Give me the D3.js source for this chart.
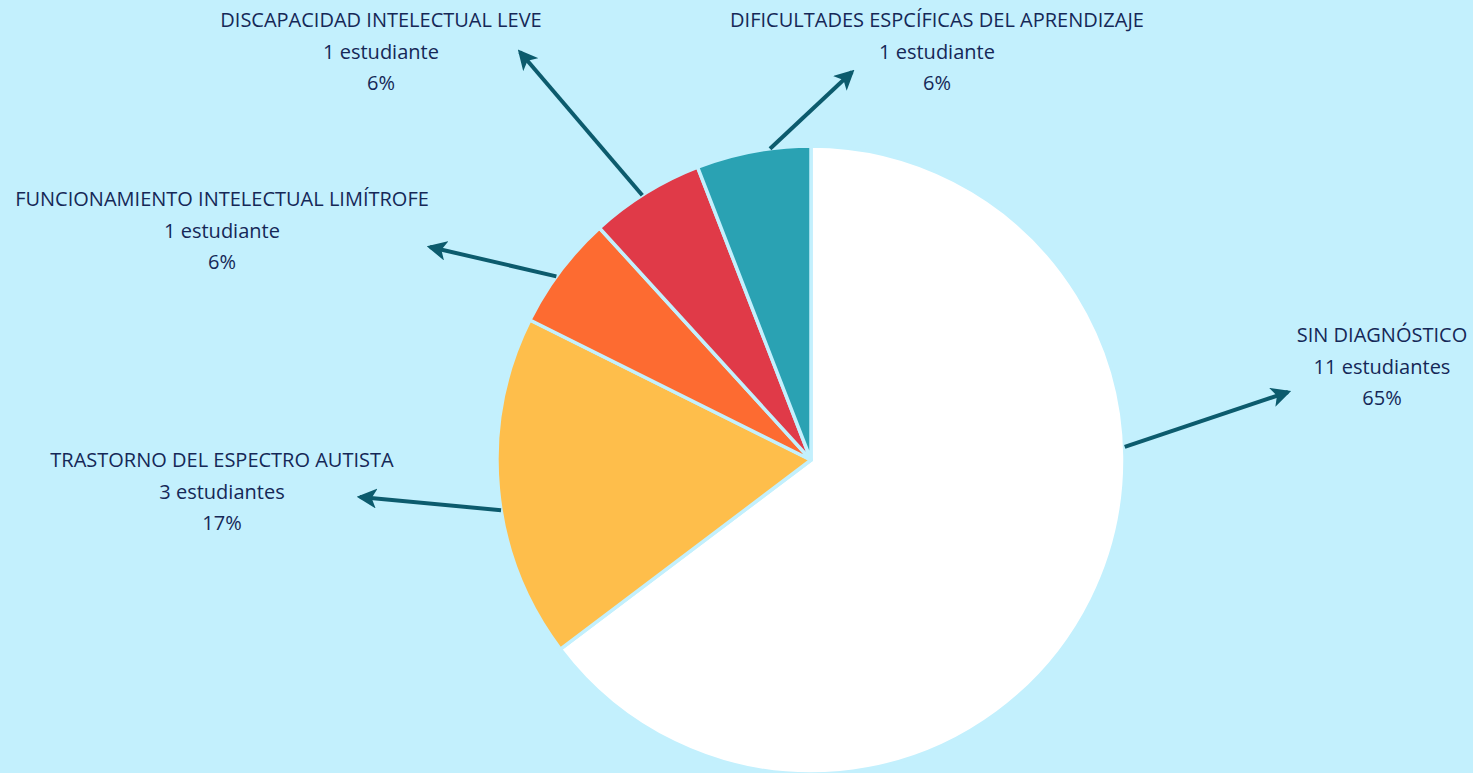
<!DOCTYPE html>
<html><head><meta charset="utf-8">
<script src="https://cdn.jsdelivr.net/npm/d3@7"></script>
<style>html,body{margin:0;padding:0;background:#c3f0fd;}svg{display:block;}</style>
</head><body>
<svg id="chart" width="1473" height="773"></svg>
<script>
const categories = ["SIN DIAGNÓSTICO","TRASTORNO DEL ESPECTRO AUTISTA","FUNCIONAMIENTO INTELECTUAL LIMÍTROFE","DISCAPACIDAD INTELECTUAL LEVE","DIFICULTADES ESPCÍFICAS DEL APRENDIZAJE"];
const counts = [11,3,1,1,1];
const countLabels = ["11 estudiantes","3 estudiantes","1 estudiante","1 estudiante","1 estudiante"];
const percentLabels = ["65%","17%","6%","6%","6%"];
const colors = ["#ffffff","#febe4b","#fd6b31","#e03a48","#2aa2b3"];

// layout
const W=1473,H=773, cx=811, cy=460, R=314;
const labelPos = [[1382,342],[222,467],[222,206],[381,27],[937,27]]; // baseline of first line
const arrowStartDeg = [87.6,260.8,305.8,327.5,352.5];
const arrowEnd = [[1288,392],[360,497],[430,247],[520,52],[852,72]];

const svg=d3.select("#chart");
svg.append("rect").attr("width",W).attr("height",H).attr("fill","#c3f0fd");
const defs=svg.append("defs");
defs.append("marker").attr("id","ah").attr("viewBox","0 0 12 12").attr("refX",10).attr("refY",6)
 .attr("markerWidth",5).attr("markerHeight",5).attr("orient","auto").attr("markerUnits","strokeWidth")
 .append("path").attr("d","M0,0 L12,6 L0,12 L3,6 Z").attr("fill","#0c5b6d");

const pie=d3.pie().sort(null).value(d=>d);
const arcs=pie(counts);
const arc=d3.arc().innerRadius(0).outerRadius(R);
const g=svg.append("g").attr("transform",`translate(${cx},${cy})`);
g.selectAll("path").data(arcs).join("path").attr("d",arc)
 .attr("fill",(d,i)=>colors[i]).attr("stroke","#c3f0fd").attr("stroke-width",3.5).attr("stroke-linejoin","round");

// arrows
arrowStartDeg.forEach((a,i)=>{
  const rad=a*Math.PI/180;
  const x1=cx+R*Math.sin(rad), y1=cy-R*Math.cos(rad);
  svg.append("line").attr("x1",x1).attr("y1",y1).attr("x2",arrowEnd[i][0]).attr("y2",arrowEnd[i][1])
   .attr("stroke","#0c5b6d").attr("stroke-width",4).attr("marker-end","url(#ah)");
});

// labels
categories.forEach((c,i)=>{
  const [x,y]=labelPos[i];
  const t=svg.append("text").attr("x",x).attr("text-anchor","middle")
   .attr("font-family","'Open Sans', sans-serif").attr("font-size",20).attr("font-weight",500).attr("fill","#152857");
  [c,countLabels[i],percentLabels[i]].forEach((s,k)=>{
    t.append("tspan").attr("x",x).attr("y",y+k*31.5).text(s);
  });
});
</script>
</body></html>
